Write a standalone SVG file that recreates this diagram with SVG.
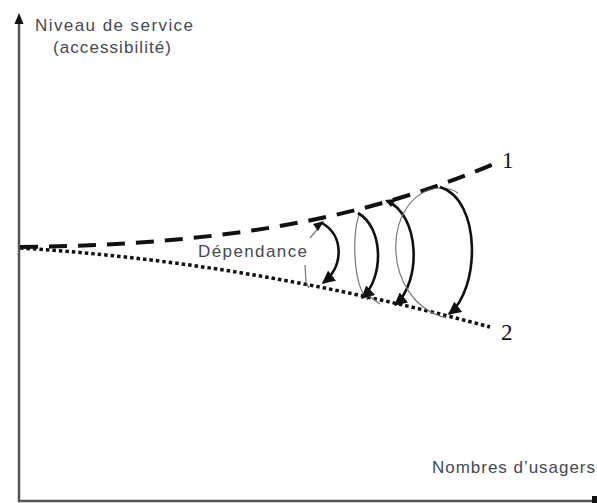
<svg xmlns="http://www.w3.org/2000/svg" width="597" height="503" viewBox="0 0 597 503">
<style>
.lbl{font-family:"Liberation Sans",Arial,sans-serif;font-size:17px;fill:#444955}
.num{font-family:"Liberation Serif","Times New Roman",serif;font-size:23px;fill:#111}
.axis{stroke:#555;stroke-width:2.5;fill:none}
.c1{stroke:#111;stroke-width:4;fill:none;stroke-dasharray:18 11}
.c2{stroke:#111;stroke-width:3.5;fill:none;stroke-dasharray:3.5 3}
.bold{stroke:#111;stroke-width:2.6;fill:none;marker-end:url(#ah)}
.thin{stroke:#777;stroke-width:1.2;fill:none}
</style>
<defs>
<marker id="ah" viewBox="0 0 10 10" refX="9" refY="5" markerWidth="5" markerHeight="5" orient="auto" markerUnits="strokeWidth">
<path d="M0,0 L10,5 L0,10 z" fill="#111"/>
</marker>
</defs>
<rect width="597" height="503" fill="#fff"/>
<g id="axes">
<line class="axis" x1="19" y1="22" x2="19" y2="502"/>
<path d="M19,13 L14.5,24 L23.5,24 z" fill="#111"/>
<line class="axis" x1="18" y1="501" x2="597" y2="501"/>
<rect x="592" y="496" width="5" height="7" fill="#111"/>
</g>
<g id="labels">
<text class="lbl" x="35" y="31" textLength="158">Niveau de service</text>
<text class="lbl" x="53" y="53" textLength="118">(accessibilité)</text>
<text class="lbl" x="432" y="473" textLength="163">Nombres d’usagers</text>
<text class="num" x="502" y="168">1</text>
<text class="num" x="501" y="340">2</text>
</g>
<g id="curves">
<path id="curve1" class="c1" d="M20,247 C180,245 340,230 496,163"/>
<path id="curve2" class="c2" d="M20,248 Q250,262 490,327"/>
</g>
<g id="loops">
<g id="loop1">
<path class="thin" d="M310,238 L320,226"/>
<path class="thin" d="M305,265 L306,282 L309,288"/>
<path class="bold" d="M322,223 C344,236 344,266 323,283"/>
<path d="M324,221 L313,224 L318,231 z" fill="#111"/>
</g>
<g id="loop2">
<path class="thin" d="M368,300 C352,285 352,228 360,213"/>
<path class="thin" d="M366,294 L380,304"/>
<path class="bold" d="M358,213 C384,228 384,278 362,298"/>
</g>
<g id="loop3">
<path class="bold" d="M387,201 C420,215 422,282 395,305"/>
<path d="M385,200 L396,199 L391,207 z" fill="#111"/>
</g>
<g id="loop4">
<path class="thin" d="M446,318 C378,300 382,192 440,188 C448,188 454,190 458,193"/>
<path class="bold" d="M440,187 C482,200 480,290 449,314"/>
</g>
</g>
<g id="dependance">
<text class="lbl" x="198" y="257" textLength="109">Dépendance</text>
</g>
</svg>
